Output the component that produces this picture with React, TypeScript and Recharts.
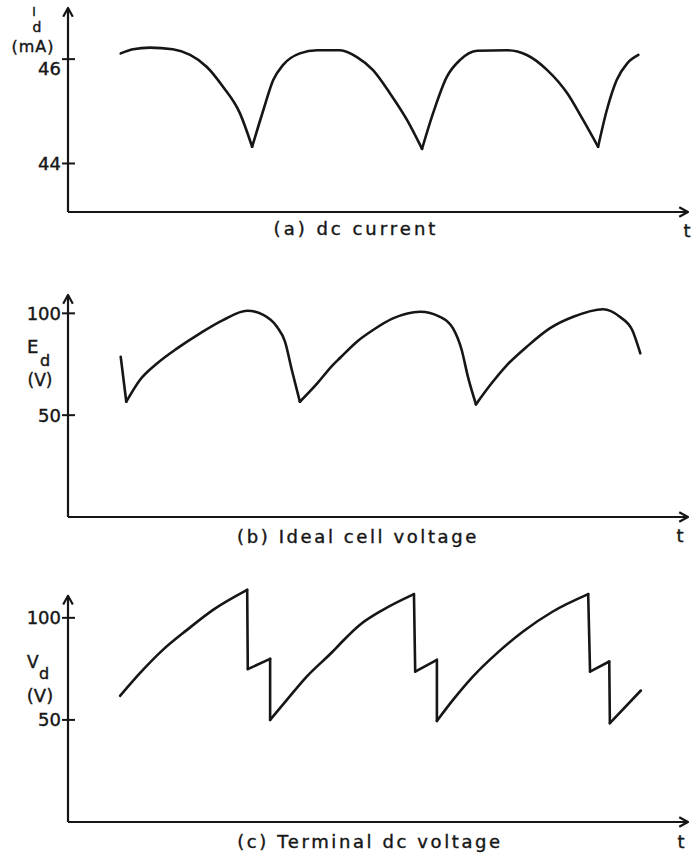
import React from "react";
import { LineChart, Line, XAxis, YAxis, ReferenceLine } from "recharts";

const FONT = "'DejaVu Sans', 'Liberation Sans', sans-serif";
const INK = "#161616";

// (a) dc current, time in arbitrary units 0..100
const currentT = [8.5, 10.5, 13.2, 16.9, 19.7, 22.4, 25.0, 27.7, 29.7, 31.5, 33.1, 34.7, 37.4, 40.2, 43.9, 46.6, 49.2, 51.9, 54.7, 57.1, 58.9, 61.1, 63.2, 66.0, 70.8, 74.0, 77.3, 80.5, 83.1, 85.5, 86.9, 88.5, 90.2, 92.0];
const currentMA = [46.11, 46.19, 46.22, 46.19, 46.08, 45.85, 45.47, 44.97, 44.32, 45.02, 45.6, 45.89, 46.11, 46.17, 46.17, 46.04, 45.79, 45.35, 44.83, 44.28, 44.97, 45.66, 45.98, 46.16, 46.17, 46.08, 45.79, 45.35, 44.83, 44.32, 45.02, 45.6, 45.92, 46.08];
const currentCusps = [8, 19, 29];
const currentTicks = [44, 46];

// (b) ideal cell voltage
const idealT = [8.5, 9.4, 11.6, 14.4, 17.6, 21.3, 25.0, 28.9, 31.5, 33.7, 35.0, 36.1, 37.4, 40.2, 42.7, 43.9, 46.6, 49.2, 52.4, 56.8, 60.0, 62.1, 63.5, 64.5, 65.8, 68.1, 70.8, 74.0, 77.7, 81.5, 86.3, 89.0, 91.0, 92.3];
const idealV = [78.7, 56.6, 67.3, 75.5, 82.8, 90.2, 96.7, 101.3, 99.2, 93.4, 86.1, 72.2, 56.6, 65.6, 74.6, 78.2, 86.1, 91.8, 97.5, 100.8, 98.3, 92.6, 82.0, 68.9, 55.3, 64.8, 74.6, 83.6, 92.6, 98.3, 102.0, 98.3, 91.8, 80.4];
const idealCusps = [1, 12, 24];

// (c) terminal dc voltage
const terminalT = [8.4, 11.6, 15.3, 19.2, 23.4, 28.9, 29.0, 32.6, 32.6, 35.3, 38.5, 42.7, 43.9, 47.1, 50.8, 55.8, 56.0, 59.5, 59.5, 62.1, 65.3, 69.2, 73.4, 78.2, 83.9, 84.2, 87.3, 87.4, 92.4];
const terminalV = [61.8, 72.9, 84.3, 94.1, 103.9, 113.7, 74.9, 79.9, 50.0, 59.8, 71.2, 83.5, 87.3, 96.6, 103.9, 111.6, 73.7, 79.4, 49.5, 59.8, 71.2, 82.7, 93.3, 103.1, 111.6, 73.7, 78.6, 48.4, 64.4];
const terminalCusps = [5, 6, 7, 8, 15, 16, 17, 18, 24, 25, 26, 27];
const voltTicks = [50, 100];

const titles = ["(a) dc current", "(b) Ideal cell voltage", "(c) Terminal dc voltage"];

// split a trace at its cusps so each smooth piece gets its own curve
function toPieces(t: number[], v: number[], cusps: number[]) {
  const bounds = [0, ...cusps, t.length - 1];
  const rows = t.map((x) => ({ t: x } as Record<string, number>));
  const keys: string[] = [];
  for (let k = 0; k < bounds.length - 1; k++) {
    const key = `s${k}`;
    keys.push(key);
    for (let i = bounds[k]; i <= bounds[k + 1]; i++) rows[i][key] = v[i];
  }
  return { rows, keys };
}

function ArrowAxis(p: any) {
  const { x1, y1, x2, y2 } = p;
  const a = Math.atan2(y2 - y1, x2 - x1);
  const L = 10;
  const s = 0.5;
  const ax = x2 - L * Math.cos(a - s);
  const ay = y2 - L * Math.sin(a - s);
  const bx = x2 - L * Math.cos(a + s);
  const by = y2 - L * Math.sin(a + s);
  return (
    <g>
      <line x1={x1} y1={y1} x2={x2} y2={y2} stroke={INK} strokeWidth={2.2} />
      <path d={`M${ax},${ay}L${x2},${y2}L${bx},${by}`} fill="none" stroke={INK} strokeWidth={2.2} strokeLinejoin="round" />
    </g>
  );
}

function YTick(props: any) {
  const { x, y, payload, shift } = props;
  const dy = (shift && shift[payload.value]) || 0;
  return (
    <g>
      <line x1={x - 6} x2={x + 7} y1={y} y2={y} stroke={INK} strokeWidth={2} />
      <text x={x - 7} y={y + dy} dy="0.36em" textAnchor="end" fontSize={18} fontFamily={FONT} fill={INK} stroke={INK} strokeWidth={0.4}>
        {payload.value}
      </text>
    </g>
  );
}

type PanelProps = {
  top: number;
  height: number;
  mTop: number;
  mBottom: number;
  t: number[];
  v: number[];
  cusps: number[];
  domain: [number, number];
  axisTop: number;
  ticks: number[];
  shift?: Record<number, number>;
};

function Panel({ top, height, mTop, mBottom, t, v, cusps, domain, axisTop, ticks, shift }: PanelProps) {
  const { rows, keys } = toPieces(t, v, cusps);
  return (
    <div style={{ position: "absolute", left: 0, top }}>
      <LineChart width={691} height={height} data={rows} margin={{ top: mTop, right: 3, bottom: mBottom, left: 0 }}>
        <XAxis type="number" dataKey="t" domain={[0, 100]} hide allowDataOverflow />
        <YAxis
          type="number"
          domain={domain}
          allowDataOverflow
          width={68}
          ticks={ticks}
          interval={0}
          axisLine={false}
          tickLine={false}
          tickSize={0}
          tickMargin={0}
          tick={<YTick shift={shift} />}
        />
        <ReferenceLine segment={[{ x: 0, y: domain[0] }, { x: 0, y: axisTop }]} ifOverflow="visible" shape={ArrowAxis} />
        <ReferenceLine segment={[{ x: 0, y: domain[0] }, { x: 100, y: domain[0] }]} ifOverflow="visible" shape={ArrowAxis} />
        {keys.map((k) => (
          <Line
            key={k}
            type="monotoneX"
            dataKey={k}
            stroke={INK}
            strokeWidth={2.6}
            strokeLinejoin="round"
            strokeLinecap="round"
            dot={false}
            activeDot={false}
            connectNulls={false}
            isAnimationActive={false}
          />
        ))}
      </LineChart>
    </div>
  );
}

const txt = { fontFamily: FONT, fill: INK, stroke: INK, strokeWidth: 0.4 } as const;

export default function App() {
  return (
    <div style={{ position: "absolute", left: 0, top: 0, width: 691, height: 856, background: "#fff", overflow: "hidden" }}>
      <Panel top={0} height={250} mTop={8} mBottom={38} t={currentT} v={currentMA} cusps={currentCusps} domain={[43.07, 46.98]} axisTop={46.98} ticks={currentTicks} shift={{ 46: 9 }} />
      <Panel top={250} height={300} mTop={45} mBottom={33} t={idealT} v={idealV} cusps={idealCusps} domain={[0, 109]} axisTop={109} ticks={voltTicks} />
      <Panel top={560} height={296} mTop={17} mBottom={34} t={terminalT} v={terminalV} cusps={terminalCusps} domain={[0, 120]} axisTop={110.8} ticks={voltTicks} />

      <svg width={691} height={856} style={{ position: "absolute", left: 0, top: 0, pointerEvents: "none" }}>
        {/* axis names */}
        <text {...txt} x={34} y={16} fontSize={12} textAnchor="middle">I</text>
        <text {...txt} x={37} y={32} fontSize={14} textAnchor="middle">d</text>
        <text {...txt} x={33} y={52} fontSize={16} textAnchor="middle" letterSpacing={1}>(mA)</text>

        <text {...txt} x={27} y={353} fontSize={18}>
          E<tspan x={40} y={366} fontSize={16}>d</tspan>
        </text>
        <text {...txt} x={40} y={386} fontSize={17} textAnchor="middle">(V)</text>

        <text {...txt} x={27} y={668} fontSize={17}>
          V<tspan x={39} y={679} fontSize={16}>d</tspan>
        </text>
        <text {...txt} x={40} y={702} fontSize={18} textAnchor="middle">(V)</text>

        {/* panel captions */}
        <text {...txt} x={356} y={235} fontSize={18} textAnchor="middle" letterSpacing={3}>{titles[0]}</text>
        <text {...txt} x={358} y={543} fontSize={18} textAnchor="middle" letterSpacing={2.6}>{titles[1]}</text>
        <text {...txt} x={370} y={848} fontSize={18} textAnchor="middle" letterSpacing={2.6}>{titles[2]}</text>

        {/* time labels */}
        <text {...txt} x={687} y={237} fontSize={18} textAnchor="middle">t</text>
        <text {...txt} x={680} y={542} fontSize={18} textAnchor="middle">t</text>
        <text {...txt} x={681} y={848} fontSize={18} textAnchor="middle">t</text>
      </svg>
    </div>
  );
}
